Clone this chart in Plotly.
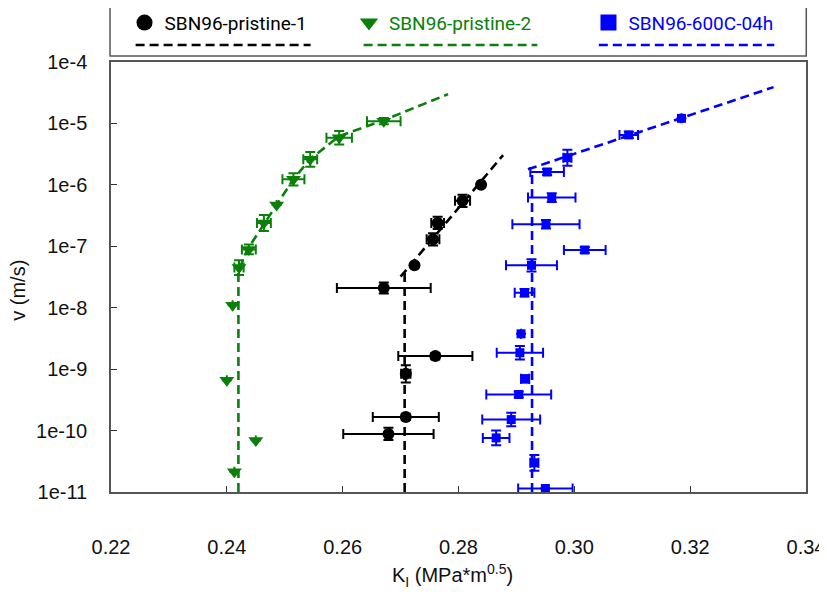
import numpy as np
import plotly.graph_objects as go

# ---- data ----
# SBN96-pristine-1 (black circles)
k_p1 = [0.2839, 0.2807, 0.2764, 0.2756, 0.2724, 0.2671, 0.2760, 0.2709, 0.2709, 0.2679]
v_p1 = [1.0e-6, 5.5e-7, 2.4e-7, 1.3e-7, 4.9e-8, 2.1e-8, 1.63e-9, 8.4e-10, 1.67e-10, 8.8e-11]
kerr_p1 = [0, 0.0013, 0.0011, 0.0011, 0, 0.0081, 0.0064, 0.0008, 0.0057, 0.0078]
verr_p1 = [0, 0.10, 0.10, 0.10, 0, 0.09, 0.05, 0.14, 0.05, 0.10]  # decades

# SBN96-pristine-2 (green triangles)
k_p2 = [0.2671, 0.2594, 0.2544, 0.2515, 0.2486, 0.2464, 0.2438, 0.2421,
        0.2410, 0.2400, 0.2450, 0.2413]
v_p2 = [1.09e-5, 5.85e-6, 2.6e-6, 1.23e-6, 4.7e-7, 2.4e-7, 8.9e-8, 4.5e-8,
        1.1e-8, 6.6e-10, 6.9e-11, 2.14e-11]
kerr_p2 = [0.0029, 0.0022, 0.0012, 0.0019, 0, 0.0012, 0.0012, 0.0008, 0, 0, 0, 0]
verr_p2 = [0.05, 0.11, 0.12, 0.10, 0, 0.13, 0.08, 0.12, 0, 0, 0, 0]

# SBN96-600C-04h (blue squares)
k_an = [0.3185, 0.3094, 0.2988, 0.2953, 0.2961, 0.2951, 0.3018, 0.2926, 0.2914,
        0.2908, 0.2906, 0.2915, 0.2904, 0.2891, 0.2865, 0.2931, 0.2950]
v_an = [1.21e-5, 6.5e-6, 2.77e-6, 1.62e-6, 6.2e-7, 2.28e-7, 8.7e-8, 4.9e-8, 1.75e-8,
        3.76e-9, 1.85e-9, 6.95e-10, 3.87e-10, 1.51e-10, 7.6e-11, 2.98e-11, 1.14e-11]
kerr_an = [0, 0.0016, 0.0007, 0.0029, 0.0041, 0.0058, 0.0036, 0.0044, 0.0017,
           0, 0.0040, 0.0007, 0.0056, 0.0050, 0.0023, 0.0007, 0.0047]
verr_an = [0, 0.05, 0.13, 0.05, 0.07, 0.07, 0.05, 0.10, 0.06,
           0, 0.11, 0.06, 0.05, 0.11, 0.12, 0.13, 0]

# fitted (dashed) curves
fit_k_p1 = [0.2707, 0.2707, None, 0.2700, 0.2877]
fit_v_p1 = [1e-11, 4.0e-8, None, 3.2e-8, 3.05e-6]
fit_k_p2 = [0.2420, 0.2420, 0.2436, 0.2464, 0.2486, 0.2515, 0.2544, 0.2594, 0.2671, 0.2782]
fit_v_p2 = [1e-11, 4.0e-8, 9.0e-8, 2.3e-7, 4.9e-7, 1.24e-6, 2.63e-6, 6.2e-6, 1.13e-5, 3.0e-5]
fit_k_an = [0.2927, 0.2927, None, 0.2920, 0.3344]
fit_v_an = [1e-11, 1.7e-6, None, 1.79e-6, 3.9e-5]

y_ticks = [1e-4, 1e-5, 1e-6, 1e-7, 1e-8, 1e-9, 1e-10, 1e-11]
y_labels = ["1e-4", "1e-5", "1e-6", "1e-7", "1e-8", "1e-9", "1e-10", "1e-11"]

BLACK = "#000000"
GREEN = "#0a800a"
BLUE = "#0000ff"


def log_err(v, d):
    v = np.array(v)
    d = np.array(d)
    return v * (10 ** d - 1), v * (1 - 10 ** (-d))


fig = go.Figure()

series = [
    (k_p1, v_p1, kerr_p1, verr_p1, BLACK, "circle", 12),
    (k_p2, v_p2, kerr_p2, verr_p2, GREEN, "triangle-down", 13),
    (k_an, v_an, kerr_an, verr_an, BLUE, "square", 9),
]
fits = [(fit_k_p1, fit_v_p1, BLACK), (fit_k_p2, fit_v_p2, GREEN), (fit_k_an, fit_v_an, BLUE)]

for fk, fv, col in fits:
    fig.add_trace(go.Scatter(
        x=fk, y=fv, mode="lines", showlegend=False, hoverinfo="skip",
        line=dict(color=col, width=2.6, dash="9px,5px"),
    ))

for k, v, ke, ve, col, sym, size in series:
    up, down = log_err(v, ve)
    fig.add_trace(go.Scatter(
        x=k, y=v, mode="markers", showlegend=False,
        marker=dict(color=col, symbol=sym, size=size),
        error_x=dict(type="data", array=ke, color=col, thickness=2, width=5),
        error_y=dict(type="data", array=up, arrayminus=down, symmetric=False,
                     color=col, thickness=2, width=5),
    ))

# legend entries (one legend per item so each can sit where the reference has it)
legend_items = [
    ("SBN96-pristine-1", BLACK, "circle", "legend", 0.1409),
    ("SBN96-pristine-2", GREEN, "triangle-down", "legend2", 0.4123),
    ("SBN96-600C-04h", BLUE, "square", "legend3", 0.7019),
]
legend_cfg = {}
for name, col, sym, lg, lx in legend_items:
    fig.add_trace(go.Scatter(
        x=[None], y=[None], mode="markers", name=name, legend=lg,
        marker=dict(color=col, symbol=sym, size=16),
    ))
    legend_cfg[lg] = dict(
        x=lx, y=0.9756, xref="container", yref="container",
        xanchor="left", yanchor="middle", orientation="h",
        bgcolor="rgba(0,0,0,0)", itemwidth=30,
        font=dict(family="Roboto, Liberation Sans, sans-serif", size=19, color=col),
    )

# legend frame and the dashed lines under each entry
shapes = [dict(type="rect", xref="paper", yref="paper", x0=-0.0014, x1=1.0004,
               y0=1.014, y1=1.1395, line=dict(color="#555555", width=1.5))]
for x0, x1, col in [(0.0354, 0.2872, BLACK), (0.3635, 0.6134, GREEN), (0.7019, 0.9543, BLUE)]:
    shapes.append(dict(type="line", xref="paper", yref="paper", x0=x0, x1=x1,
                       y0=1.0395, y1=1.0395, line=dict(color=col, width=2.6, dash="9px,5px")))

fig.update_layout(
    width=827, height=603,
    margin=dict(l=103, r=29, t=54, b=119, autoexpand=False),
    plot_bgcolor="white", paper_bgcolor="white",
    font=dict(family="Liberation Sans, Arial, sans-serif", size=20, color="#111111"),
    shapes=shapes,
    annotations=[
        dict(text="K<sub>I</sub> (MPa*m<sup>0.5</sup>)", xref="paper", yref="paper",
             x=0.492, y=-0.195, xanchor="center", yanchor="middle", showarrow=False,
             font=dict(size=20)),
        dict(text="v (m/s)", xref="paper", yref="paper", x=-0.134, y=0.47,
             xanchor="center", yanchor="middle", textangle=-90, showarrow=False,
             font=dict(size=20)),
    ],
    **legend_cfg,
)

fig.update_xaxes(
    range=[0.22, 0.34], dtick=0.02, tickformat=".2f", automargin=False,
    showgrid=False, zeroline=False,
    showline=True, mirror=True, linecolor="#555555", linewidth=1.5,
    ticks="inside", ticklen=6, tickcolor="#333333", ticklabelstandoff=36,
)
fig.update_yaxes(
    type="log", range=[-11, -4], tickvals=y_ticks, ticktext=y_labels, automargin=False,
    showgrid=False, zeroline=False,
    showline=True, mirror=True, linecolor="#555555", linewidth=1.5,
    ticks="inside", ticklen=6, tickcolor="#333333", ticklabelstandoff=18,
)

fig.write_html("out.html")
